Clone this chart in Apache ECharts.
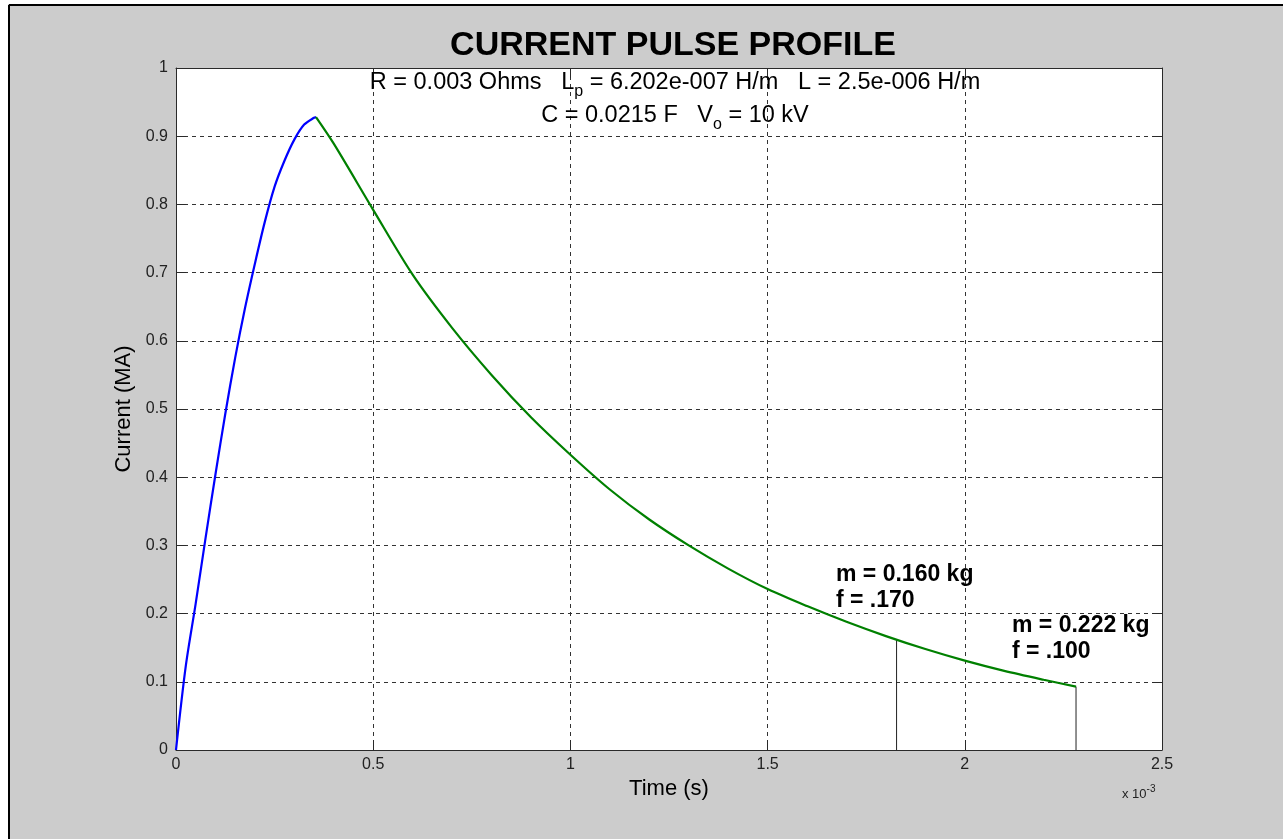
<!DOCTYPE html>
<html><head><meta charset="utf-8">
<script src="https://cdn.jsdelivr.net/npm/echarts@6/dist/echarts.min.js"></script>
<style>html,body{margin:0;padding:0;background:#fff}#c{width:1283px;height:839px}</style>
</head><body><div id="c"></div>
<script>
// ---- data (time in units of 1e-3 s, current in MA) ----
const xTickValues = [0, 0.5, 1, 1.5, 2, 2.5];
const yTickValues = [0, 0.1, 0.2, 0.3, 0.4, 0.5, 0.6, 0.7, 0.8, 0.9, 1];
const riseTime    = [0, 0.025, 0.05, 0.075, 0.1, 0.125, 0.15, 0.175, 0.2, 0.225, 0.25, 0.275, 0.3, 0.325, 0.35, 0.355];
const riseCurrent = [0, 0.124, 0.215, 0.311, 0.404, 0.493, 0.575, 0.648, 0.713, 0.774, 0.826, 0.864, 0.895, 0.917, 0.927, 0.928];
const decayTime    = [0.355, 0.4, 0.5, 0.6, 0.7, 0.8, 0.9, 1.0, 1.1, 1.2, 1.3, 1.4, 1.5, 1.6, 1.7, 1.8, 1.9, 2.0, 2.1, 2.2, 2.282];
const decayCurrent = [0.928, 0.889, 0.792, 0.697, 0.619, 0.550, 0.488, 0.433, 0.382, 0.338, 0.300, 0.266, 0.236, 0.211, 0.188, 0.167, 0.148, 0.131, 0.116, 0.103, 0.093];
const markerTime    = [1.827, 2.282];
const markerCurrent = [0.162, 0.093];
const markerMass    = ['0.160', '0.222'];
const markerF       = ['.170', '.100'];

const FONT = '"Liberation Sans", Arial, Helvetica, sans-serif';
const chart = echarts.init(document.getElementById('c'), null, {renderer: 'canvas'});

const zip = (a, b) => a.map((v, i) => [v, b[i]]);
const tickFmt = v => String(Math.round(v * 10) / 10);

const baseAxis = {
  type: 'value',
  axisLine: {show: true, onZero: false, lineStyle: {color: '#2a2a2a', width: 1}},
  axisTick: {show: true, inside: true, length: 10, lineStyle: {color: '#2a2a2a'}},
  splitLine: {show: false},
  axisLabel: {show: false}
};

const markerSeries = markerTime.map((t, i) => ({
  type: 'line', name: 'm' + i, data: [[t, 0], [t, markerCurrent[i]]],
  showSymbol: false, symbol: 'none', silent: true, z: 3,
  lineStyle: {color: '#222', width: 1}
}));

const option = {
  backgroundColor: '#cccccc',
  animation: false,
  title: {
    text: 'CURRENT PULSE PROFILE', left: 668, top: 24, textAlign: 'center',
    textStyle: {fontFamily: FONT, fontSize: 34, fontWeight: 'bold', color: '#000'}
  },
  grid: {left: 176, right: 121, top: 68, bottom: 89, show: true, backgroundColor: '#ffffff', borderWidth: 0},
  xAxis: [
    Object.assign({}, baseAxis, {
      position: 'bottom', min: 0, max: 2.5, interval: 0.5,
      name: 'Time (s)', nameLocation: 'middle', nameGap: 28,
      nameTextStyle: {fontFamily: FONT, fontSize: 22, color: '#000'},
      axisLabel: {show: true, margin: 7, fontFamily: FONT, fontSize: 16, color: '#222', formatter: tickFmt},
      splitLine: {show: true, lineStyle: {color: '#333', type: [4, 4], width: 1}}
    }),
    Object.assign({}, baseAxis, {position: 'top', min: 0, max: 2.5, interval: 0.5})
  ],
  yAxis: [
    Object.assign({}, baseAxis, {
      position: 'left', min: 0, max: 1, interval: 0.1,
      name: 'Current (MA)', nameLocation: 'middle', nameGap: 37, nameRotate: 90,
      nameTextStyle: {fontFamily: FONT, fontSize: 22, color: '#000'},
      axisLabel: {show: true, margin: 8, fontFamily: FONT, fontSize: 16, color: '#222', formatter: tickFmt},
      splitLine: {show: true, lineStyle: {color: '#333', type: [4, 4], width: 1}}
    }),
    Object.assign({}, baseAxis, {position: 'right', min: 0, max: 1, interval: 0.1})
  ],
  series: [
    {type: 'line', name: 'rise', data: zip(riseTime, riseCurrent), smooth: 0.3,
     showSymbol: false, symbol: 'none', lineStyle: {color: '#0000ff', width: 2.2}, z: 4},
    {type: 'line', name: 'decay', data: zip(decayTime, decayCurrent), smooth: 0.3,
     showSymbol: false, symbol: 'none', lineStyle: {color: '#008000', width: 2.2}, z: 4}
  ].concat(markerSeries),
  graphic: [
    {type: 'rect', shape: {x: 0, y: 0, width: 1283, height: 4}, style: {fill: '#fff'}, silent: true},
    {type: 'rect', shape: {x: 0, y: 0, width: 8, height: 839}, style: {fill: '#fff'}, silent: true},
    {type: 'line', shape: {x1: 9, y1: 5, x2: 1283, y2: 5}, style: {stroke: '#000', lineWidth: 2}, silent: true},
    {type: 'line', shape: {x1: 9, y1: 5, x2: 9, y2: 839}, style: {stroke: '#000', lineWidth: 2}, silent: true},
    {type: 'text', x: 675, y: 83, z: 10, silent: true,
     style: {text: 'R = 0.003 Ohms   L{sub|p} = 6.202e-007 H/m   L = 2.5e-006 H/m', fontFamily: FONT, fontSize: 23.5, fill: '#000',
             align: 'center', verticalAlign: 'middle',
             rich: {sub: {fontFamily: FONT, fontSize: 16, fill: '#000', padding: [17, 0, 0, 0]}}}},
    {type: 'text', x: 675, y: 116, z: 10, silent: true,
     style: {text: 'C = 0.0215 F   V{sub|o} = 10 kV', fontFamily: FONT, fontSize: 23.5, fill: '#000',
             align: 'center', verticalAlign: 'middle',
             rich: {sub: {fontFamily: FONT, fontSize: 16, fill: '#000', padding: [17, 0, 0, 0]}}}},
    {type: 'text', z: 10, silent: true, left: 836, top: 562,
     style: {text: 'm = ' + markerMass[0] + ' kg\nf = ' + markerF[0], fontFamily: FONT, fontSize: 23, fontWeight: 'bold',
             fill: '#000', lineHeight: 26}},
    {type: 'text', z: 10, silent: true, left: 1012, top: 613,
     style: {text: 'm = ' + markerMass[1] + ' kg\nf = ' + markerF[1], fontFamily: FONT, fontSize: 23, fontWeight: 'bold',
             fill: '#000', lineHeight: 26}},
    {type: 'text', z: 10, silent: true, left: 1122, top: 784,
     style: {text: 'x 10{sup|-3}', fontFamily: FONT, fontSize: 13, fill: '#222',
             rich: {sup: {fontFamily: FONT, fontSize: 10, fill: '#222', padding: [0, 0, 10, 0]}}}}
  ]
};
chart.setOption(option);
</script>
</body></html>
